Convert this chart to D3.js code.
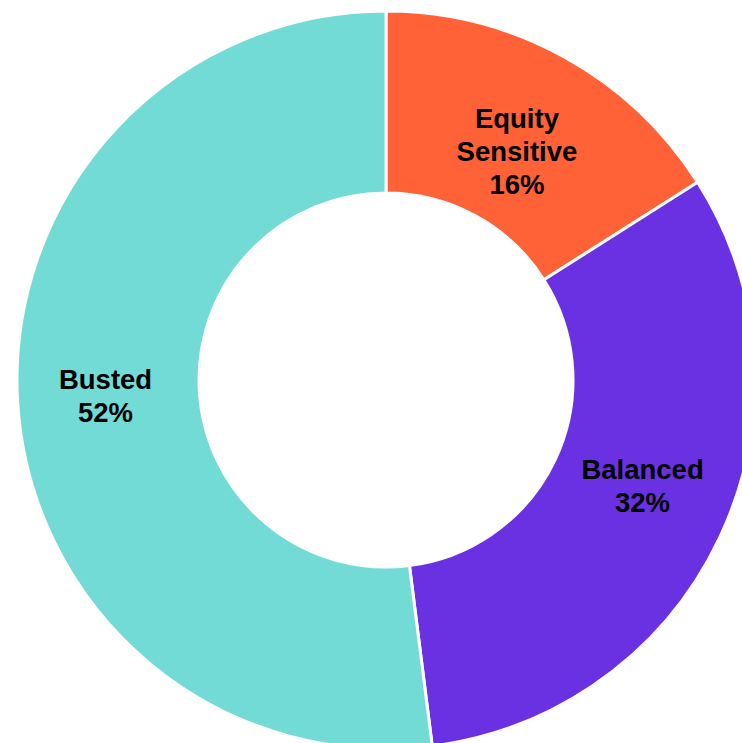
<!DOCTYPE html>
<html lang="en">
<head>
  <meta charset="utf-8">
  <title>Donut</title>
  <script src="https://d3js.org/d3.v7.min.js"></script>
  <style>
    body { margin: 0; background: #fff; }
  </style>
</head>
<body>
<div id="my_dataviz"></div>
<script>
const categories = ["Equity Sensitive", "Balanced", "Busted"];
const labelLines = [["Equity", "Sensitive"], ["Balanced"], ["Busted"]];
const values = [16, 32, 52];
const colors = ["#FF6237", "#6A31E3", "#72DBD5"];

const width = 742, height = 743;
const cx = 386, cy = 380;
const outerR = 369, innerR = 187;

const svg = d3.select("#my_dataviz")
  .append("svg")
    .attr("width", width)
    .attr("height", height)
  .append("g")
    .attr("transform", `translate(${cx},${cy})`);

const data = categories.map((c, i) => ({name: c, lines: labelLines[i], value: values[i], color: colors[i]}));

const pie = d3.pie().value(d => d.value).sort(null);
const arc = d3.arc().innerRadius(innerR).outerRadius(outerR);

const arcs = pie(data);

svg.selectAll("path")
  .data(arcs)
  .join("path")
    .attr("d", arc)
    .attr("fill", d => d.data.color)
    .attr("stroke", "#fff")
    .attr("stroke-width", 3);

// labels near the arc centroid, nudged a bit like the original layout
const nudge = [[-3, 15], [5, -12], [-3, -2]];
const lineH = 33;
const labels = svg.selectAll("text.lbl")
  .data(arcs)
  .join("text")
    .attr("class", "lbl")
    .attr("transform", (d, i) => {
      const [x, y] = arc.centroid(d);
      return `translate(${x + nudge[i][0]},${y + nudge[i][1]})`;
    })
    .attr("text-anchor", "middle")
    .style("font-family", "'Liberation Sans', Arial, sans-serif")
    .style("font-weight", "bold")
    .style("font-size", "27.5px")
    .attr("fill", "#000");

labels.each(function(d) {
  const lines = d.data.lines.concat([d.data.value + "%"]);
  const t = d3.select(this);
  const y0 = -(lines.length - 1) * lineH / 2;
  lines.forEach((l, i) => {
    t.append("tspan")
      .attr("x", 0)
      .attr("y", y0 + i * lineH)
      .attr("dy", "0.35em")
      .text(l);
  });
});
</script>
</body>
</html>
